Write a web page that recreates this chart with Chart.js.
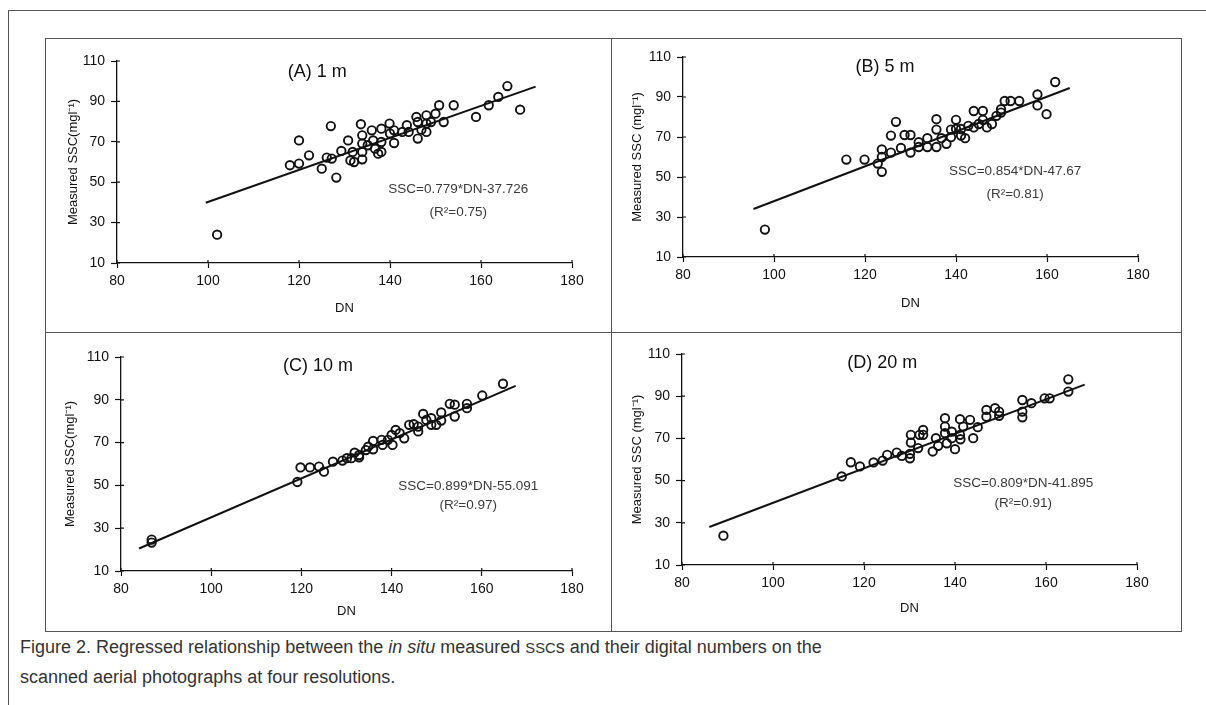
<!DOCTYPE html>
<html>
<head>
<meta charset="utf-8">
<script src="https://cdn.jsdelivr.net/npm/chart.js@4.4.1/dist/chart.umd.min.js"></script>
<style>
body{margin:0;width:1206px;height:705px;background:#fff;position:relative;overflow:hidden;font-family:'Liberation Sans',Arial,sans-serif}
.ln{position:absolute;background:#555}
canvas{position:absolute}
#cap{position:absolute;left:20px;top:633px;font-size:18px;line-height:29px;color:#333;white-space:nowrap}
</style>
</head>
<body>
<div class="ln" style="left:8px;top:10px;width:1198px;height:1px"></div>
<div class="ln" style="left:8px;top:10px;width:1px;height:695px"></div>
<div class="ln" style="left:45px;top:38px;width:1136px;height:1px"></div>
<div class="ln" style="left:45px;top:631px;width:1136px;height:1px"></div>
<div class="ln" style="left:45px;top:38px;width:1px;height:594px"></div>
<div class="ln" style="left:1181px;top:38px;width:1px;height:594px"></div>
<div class="ln" style="left:611px;top:38px;width:1px;height:594px"></div>
<div class="ln" style="left:45px;top:332px;width:1136px;height:1px"></div>

<canvas id="pa" width="566" height="294" style="left:46px;top:39px"></canvas>
<canvas id="pb" width="569" height="293" style="left:612px;top:39px"></canvas>
<canvas id="pc" width="565" height="298" style="left:46px;top:333px"></canvas>
<canvas id="pd" width="569" height="298" style="left:612px;top:333px"></canvas>

<div id="cap">Figure 2. Regressed relationship between the <i>in situ</i> measured <span style="font-size:0.82em">SSC</span>s and their digital numbers on the<br>scanned aerial photographs at four resolutions.</div>

<script>
// tick values
const xTicks = [80, 100, 120, 140, 160, 180];
const yTicks = [10, 30, 50, 70, 90, 110];

// (A) 1 m
const dnA = [102,118,120,120,122.2,125,126.1,127.2,127,128.2,129.3,130.8,131.3,131.8,132.1,133.6,133.9,133.9,133.9,133.9,135.1,136,136.3,136.7,137.4,138.1,138.1,138.1,139.9,140,140.9,140.9,142.7,143.7,144.1,145.8,146.1,146.1,146.9,148,148,148,149,150,150.8,151.8,154,158.9,161.7,163.8,165.8,168.6];
const sscA = [24,58.4,59.2,70.7,63.3,56.7,62.2,61.7,77.8,52.3,65.5,70.7,60.8,65,60,78.7,73.2,69.1,65,61.3,68.3,75.7,70.7,66.6,64.1,76.5,69.9,65,79,74.1,75.7,69.4,74.9,78.2,74.9,82.3,79.8,71.6,76,83.1,79,74.9,79.8,83.9,88.1,79.8,88.1,82.3,88.1,92.2,97.6,85.9];
const fitDnA = [99.5, 172];
const fitSscA = [39.8, 97.3];

// (B) 5 m
const dnB = [98,115.9,119.9,122.8,123.7,123.7,123.7,125.7,126.8,125.7,127.9,128.7,130,130,131.8,131.8,133.7,133.7,135.7,135.7,135.7,136.8,137.9,138.9,138.9,140,140,141.1,141.1,142,142.7,143.9,143.9,145,145.9,145.9,146.8,147.9,148.9,149.9,149.9,150.7,152,153.9,157.9,157.9,159.9,161.8];
const sscB = [23.7,58.7,58.7,56.7,63.8,60,52.6,70.7,77.6,62.2,64.5,71,71,62.2,67.4,65,69.4,65,78.9,73.7,65,69.4,66.6,73.7,69.9,78.6,74,70.7,74,69.4,75.6,83,74.8,76.5,83,78.6,74.8,76.5,80.6,83.9,82.2,88,88,88,91.3,85.8,81.4,97.5];
const fitDnB = [95.5, 165];
const fitSscB = [34, 94.5];

// (C) 10 m
const dnC = [86.8,86.8,119.1,119.8,121.9,123.9,125,127,129.1,130.1,131.1,131.8,132.8,132.8,134.3,134.8,135.9,135.9,137.8,138,139.2,140,140.2,140.9,141.8,142.8,143.9,144.9,145.9,145.9,147,147.7,148.8,148.8,149.9,151,151,152.9,154,154,156.7,156.7,160.1,164.7];
const sscC = [24.7,23.3,51.6,58.4,58.4,58.8,56.4,61.1,61.6,62.7,62.7,65.3,64.2,63.1,66.5,68.1,70.8,66.9,71.3,68.9,71.3,73.6,68.9,75.9,74.4,72,78.3,78.6,75.2,77.5,83.4,80.6,81.4,78.3,78.3,84.1,80.3,88.1,87.7,82.2,88.1,86.1,92,97.5];
const fitDnC = [84, 167.5];
const fitSscC = [20.5, 96.5];

// (D) 20 m
const dnD = [89.1,115.1,117.1,119.1,122.1,124.1,125.1,127.2,128.3,130.1,130.1,130.3,130.3,132.2,131.9,133,133,135.1,135.8,136.3,137.8,137.8,137.8,138.2,139.3,139.3,140,141.1,141.1,141.2,141.8,143.3,144,145,146.9,146.9,148.8,149.7,149.7,154.8,154.8,154.8,156.8,159.7,160.8,164.9,164.9];
const sscD = [23.9,52,58.7,56.7,58.6,59.5,62.2,63.3,61.7,62.7,60.6,68,71.7,71.7,65.4,71.7,74,63.8,70.1,66.5,79.6,75.6,72.5,67.7,70.1,73.2,64.9,71.7,79.1,69.6,75.6,78.8,70.1,75.3,83.5,80.3,84.3,82.7,80.7,88.2,82.7,80,86.7,89,89,98,92.2];
const fitDnD = [86, 168.5];
const fitSscD = [28, 95.5];

const ink = '#111';

// titles, equations, and the small inner part of each tick
const panelText = {
  id: 'panelText',
  afterDraw(chart) {
    const t = chart.options.plugins.panelText;
    const {ctx, scales: {x, y}, chartArea: a} = chart;
    ctx.save();
    ctx.strokeStyle = ink;
    ctx.lineWidth = 1.2;
    ctx.beginPath();
    yTicks.forEach(v => { const py = y.getPixelForValue(v); ctx.moveTo(a.left, py); ctx.lineTo(a.left + 3, py); });
    xTicks.forEach(v => { const px = x.getPixelForValue(v); ctx.moveTo(px, a.bottom); ctx.lineTo(px, a.bottom - 3); });
    ctx.stroke();
    ctx.textAlign = 'center';
    ctx.textBaseline = 'middle';
    ctx.fillStyle = ink;
    ctx.font = '18px "Liberation Sans", Arial, sans-serif';
    ctx.fillText(t.title, x.getPixelForValue(t.tx), y.getPixelForValue(t.ty));
    ctx.fillStyle = '#3a3a3a';
    ctx.font = '13.5px "Liberation Sans", Arial, sans-serif';
    ctx.fillText(t.eq, x.getPixelForValue(t.ex), y.getPixelForValue(t.ey));
    ctx.fillText(t.r2, x.getPixelForValue(t.ex), y.getPixelForValue(t.ry));
    ctx.restore();
  }
};

function makePanel(id, box, dn, ssc, fdn, fssc, yTitle, txt) {
  const font = {family: '"Liberation Sans", Arial, sans-serif', size: 14};
  new Chart(document.getElementById(id), {
    type: 'scatter',
    data: {
      datasets: [{
        data: dn.map((v, i) => ({x: v, y: ssc[i]})),
        pointRadius: 4.2,
        pointHoverRadius: 4.2,
        pointBorderWidth: 1.9,
        borderColor: ink,
        backgroundColor: 'rgba(0,0,0,0)'
      }, {
        data: fdn.map((v, i) => ({x: v, y: fssc[i]})),
        showLine: true,
        pointRadius: 0,
        borderColor: ink,
        borderWidth: 2
      }]
    },
    options: {
      responsive: false,
      animation: false,
      devicePixelRatio: 1,
      layout: {padding: {left: 0, top: box.t, right: box.w - box.r, bottom: box.h - box.b - box.xh}},
      plugins: {legend: {display: false}, tooltip: {enabled: false}, panelText: txt},
      scales: {
        x: {
          type: 'linear', min: 80, max: 180,
          afterFit: s => { s.height = box.xh; },
          afterBuildTicks: s => { s.ticks = xTicks.map(v => ({value: v})); },
          ticks: {padding: 5, color: ink, font: font},
          grid: {drawOnChartArea: false, tickLength: 5, color: ink, tickWidth: 1.2},
          border: {color: ink, width: 1.3},
          title: {display: true, text: 'DN', color: ink, font: {family: font.family, size: 13}, padding: 0}
        },
        y: {
          type: 'linear', min: 10, max: 110,
          afterFit: s => { s.width = box.l; },
          afterBuildTicks: s => { s.ticks = yTicks.map(v => ({value: v})); },
          ticks: {padding: 6, color: ink, font: font},
          grid: {drawOnChartArea: false, tickLength: 6, color: ink, tickWidth: 1.2},
          border: {color: ink, width: 1.3},
          title: {display: true, text: yTitle, color: ink, font: {family: font.family, size: 13}, padding: {top: box.yt, bottom: 0}}
        }
      }
    },
    plugins: [panelText]
  });
}

makePanel('pa', {w: 566, h: 294, l: 71, t: 22, r: 526, b: 224, xh: 53, yt: 20}, dnA, sscA, fitDnA, fitSscA,
  'Measured SSC(mgl\u207B\u00B9)', {title: '(A) 1 m', tx: 124, ty: 104.5, eq: 'SSC=0.779*DN-37.726', r2: '(R\u00B2=0.75)', ex: 155, ey: 46.6, ry: 35.2});
makePanel('pb', {w: 569, h: 293, l: 71, t: 18, r: 526, b: 218, xh: 54, yt: 18}, dnB, sscB, fitDnB, fitSscB,
  'Measured SSC (mgl\u207B\u00B9)', {title: '(B) 5 m', tx: 124.4, ty: 105, eq: 'SSC=0.854*DN-47.67', r2: '(R\u00B2=0.81)', ex: 153, ey: 53, ry: 41.5});
makePanel('pc', {w: 565, h: 298, l: 75, t: 24, r: 526, b: 238, xh: 48, yt: 17}, dnC, sscC, fitDnC, fitSscC,
  'Measured SSC(mgl\u207B\u00B9)', {title: '(C) 10 m', tx: 123.7, ty: 105.8, eq: 'SSC=0.899*DN-55.091', r2: '(R\u00B2=0.97)', ex: 157, ey: 49.7, ry: 40.8});
makePanel('pd', {w: 569, h: 298, l: 70, t: 21, r: 525, b: 232, xh: 51, yt: 18}, dnD, sscD, fitDnD, fitSscD,
  'Measured SSC (mgl\u207B\u00B9)', {title: '(D) 20 m', tx: 124, ty: 105.7, eq: 'SSC=0.809*DN-41.895', r2: '(R\u00B2=0.91)', ex: 155, ey: 48.9, ry: 39.4});
</script>
</body>
</html>
